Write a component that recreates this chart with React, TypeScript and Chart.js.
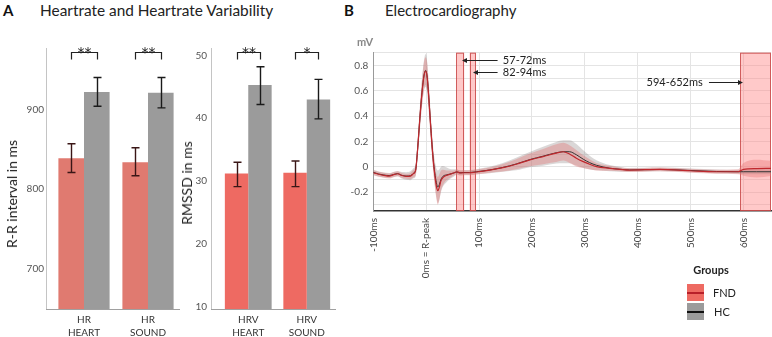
import React, { useEffect, useRef } from "react";
import { Chart, registerables } from "chart.js";
Chart.register(...registerables);
Chart.defaults.font.family = "Lato, 'Open Sans', sans-serif";

// ---------- Panel A data ----------
const hrCategories = [["HR", "HEART"], ["HR", "SOUND"]];
const hrFnd = [839, 834];
const hrFndLow = [821, 817];
const hrFndHigh = [857, 852];
const hrHc = [922, 921];
const hrHcLow = [904, 902];
const hrHcHigh = [940, 940];
const hrSig = ["**", "**"];
const hrTicks = [700, 800, 900];

const hrvCategories = [["HRV", "HEART"], ["HRV", "SOUND"]];
const hrvFnd = [31.2, 31.3];
const hrvFndLow = [29.1, 29.1];
const hrvFndHigh = [33.0, 33.2];
const hrvHc = [45.3, 43.0];
const hrvHcLow = [42.2, 39.9];
const hrvHcHigh = [48.2, 46.2];
const hrvSig = ["**", "*"];
const hrvTicks = [10, 20, 30, 40, 50];

// ---------- Panel B data ----------
const ecgTime = [-100, -90, -80, -70, -60, -54, -46, -38, -30, -24, -20, -16, -12, -8, -4, -1, 2, 5, 8, 11, 14, 17, 20, 22, 25, 28, 32, 38, 45, 52, 58, 64, 70, 82, 95, 120, 145, 170, 196, 221, 246, 259, 271, 284, 297, 309, 322, 347, 366, 385, 442, 499, 549, 590, 600, 625, 652];
const ecgFnd = [-0.048, -0.06, -0.068, -0.074, -0.061, -0.056, -0.07, -0.076, -0.074, -0.055, -0.03, 0.15, 0.38, 0.58, 0.72, 0.755, 0.7, 0.54, 0.35, 0.17, 0.02, -0.09, -0.17, -0.19, -0.16, -0.11, -0.085, -0.07, -0.06, -0.05, -0.04, -0.05, -0.048, -0.048, -0.042, -0.027, -0.008, 0.019, 0.054, 0.08, 0.107, 0.118, 0.1, 0.067, 0.04, 0.019, 0.0, -0.013, -0.021, -0.027, -0.021, -0.032, -0.04, -0.04, -0.021, -0.015, -0.013];
const ecgHc = [-0.045, -0.058, -0.066, -0.07, -0.06, -0.055, -0.068, -0.074, -0.072, -0.052, -0.028, 0.15, 0.38, 0.585, 0.725, 0.76, 0.705, 0.545, 0.355, 0.175, 0.03, -0.07, -0.14, -0.16, -0.14, -0.1, -0.075, -0.065, -0.058, -0.05, -0.042, -0.048, -0.046, -0.046, -0.04, -0.026, -0.006, 0.021, 0.056, 0.083, 0.11, 0.118, 0.118, 0.094, 0.059, 0.032, 0.011, -0.012, -0.02, -0.026, -0.022, -0.03, -0.038, -0.04, -0.04, -0.04, -0.04];
const ecgFndSd = [0.02, 0.02, 0.02, 0.02, 0.02, 0.02, 0.02, 0.02, 0.025, 0.03, 0.04, 0.06, 0.08, 0.1, 0.11, 0.11, 0.11, 0.1, 0.09, 0.08, 0.08, 0.09, 0.1, 0.11, 0.1, 0.08, 0.06, 0.04, 0.03, 0.02, 0.02, 0.02, 0.02, 0.02, 0.02, 0.02, 0.03, 0.04, 0.05, 0.06, 0.07, 0.07, 0.07, 0.065, 0.05, 0.04, 0.03, 0.02, 0.015, 0.015, 0.015, 0.015, 0.015, 0.02, 0.05, 0.07, 0.06];
const ecgHcSd = [0.02, 0.02, 0.02, 0.02, 0.02, 0.02, 0.025, 0.03, 0.035, 0.04, 0.05, 0.07, 0.09, 0.11, 0.12, 0.13, 0.12, 0.11, 0.1, 0.09, 0.09, 0.1, 0.12, 0.13, 0.12, 0.1, 0.08, 0.06, 0.04, 0.03, 0.02, 0.02, 0.02, 0.02, 0.02, 0.025, 0.035, 0.05, 0.06, 0.075, 0.085, 0.09, 0.09, 0.085, 0.07, 0.055, 0.04, 0.025, 0.02, 0.015, 0.015, 0.015, 0.015, 0.015, 0.02, 0.02, 0.02];
const ecgXTicks = [-100, 0, 100, 200, 300, 400, 500, 600];
const ecgXTickLabels = ["-100ms", "0ms = R-peak", "100ms", "200ms", "300ms", "400ms", "500ms", "600ms"];
const ecgYTicks = [-0.3, -0.2, -0.1, 0, 0.1, 0.2, 0.3, 0.4, 0.5, 0.6, 0.7, 0.8, 0.9];
const ecgYLabeled = [-0.2, 0, 0.2, 0.4, 0.6, 0.8];
const ecgWindowStart = [57, 82, 594];
const ecgWindowEnd = [72, 94, 652];
const ecgWindowLabels = ["57-72ms", "82-94ms", "594-652ms"];

// annotation layout (text anchor / arrow in axis units)
const annLayout = [
  { textT: 145, v: 0.842, align: "left", fromT: 135, toT: 67.7 },
  { textT: 145, v: 0.748, align: "left", fromT: 135, toT: 88.5 },
  { textT: 523, v: 0.669, align: "right", fromT: 534.7, toT: 599 },
];

function barDecor(gap: number, low: number[][], high: number[][], sig: string[], errColors: string[]) {
  return {
    id: "barDecor",
    afterDatasetsDraw(chart: any) {
      const ctx = chart.ctx;
      const { left, right, top, bottom } = chart.chartArea;
      const ys = chart.scales.y;
      ctx.save();
      ctx.lineWidth = 1;
      ctx.strokeStyle = "#c4c4c4";
      ctx.beginPath();
      ctx.moveTo(left - gap + 0.5, top);
      ctx.lineTo(left - gap + 0.5, bottom);
      ctx.stroke();
      ctx.strokeStyle = "#a0a0a0";
      ctx.beginPath();
      ctx.moveTo(left - gap, bottom + 0.5);
      ctx.lineTo(right, bottom + 0.5);
      ctx.stroke();
      chart.data.datasets.forEach((_ds: any, di: number) => {
        const meta = chart.getDatasetMeta(di);
        meta.data.forEach((bar: any, i: number) => {
          const x = Math.round(bar.x) + 0.5;
          const yl = ys.getPixelForValue(low[di][i]);
          const yh = ys.getPixelForValue(high[di][i]);
          ctx.strokeStyle = errColors[di];
          ctx.lineWidth = 1.4;
          ctx.beginPath();
          ctx.moveTo(x, yl);
          ctx.lineTo(x, yh);
          ctx.moveTo(x - 4, yl);
          ctx.lineTo(x + 4, yl);
          ctx.moveTo(x - 4, yh);
          ctx.lineTo(x + 4, yh);
          ctx.stroke();
        });
      });
      const m0 = chart.getDatasetMeta(0);
      const m1 = chart.getDatasetMeta(1);
      sig.forEach((s, i) => {
        const x0 = Math.round(m0.data[i].x) + 0.5;
        const x1 = Math.round(m1.data[i].x) + 0.5;
        const yt = top + 4.5;
        ctx.strokeStyle = "#222";
        ctx.lineWidth = 1.2;
        ctx.beginPath();
        ctx.moveTo(x0, yt + 7);
        ctx.lineTo(x0, yt);
        ctx.lineTo(x1, yt);
        ctx.lineTo(x1, yt + 7);
        ctx.stroke();
        ctx.fillStyle = "#222";
        ctx.font = "14px 'DejaVu Sans', sans-serif";
        ctx.textAlign = "center";
        ctx.textBaseline = "alphabetic";
        ctx.fillText(s, (x0 + x1) / 2, yt + 4.5);
      });
      ctx.restore();
    },
  };
}

function barConfig(cats: any, fnd: number[], hc: number[], fndColor: string, yMin: number, yMax: number, ticks: number[], yWidth: number, tickPad: number, padRight: number, decor: any) {
  return {
    type: "bar",
    data: {
      labels: cats,
      datasets: [
        { label: "FND", data: fnd, backgroundColor: fndColor, categoryPercentage: 0.8, barPercentage: 1 },
        { label: "HC", data: hc, backgroundColor: "#9b9b9b", categoryPercentage: 0.8, barPercentage: 1 },
      ],
    },
    options: {
      animation: false,
      responsive: false,
      layout: { padding: { top: 18, right: padRight, left: 0, bottom: 0 } },
      plugins: { legend: { display: false }, tooltip: { enabled: false } },
      scales: {
        x: {
          grid: { display: false, drawTicks: false },
          border: { display: false },
          ticks: { color: "#333", font: { size: 10, lineHeight: 1.3 }, padding: 4, maxRotation: 0, autoSkip: false },
          afterFit: (s: any) => { s.height = 28; },
        },
        y: {
          min: yMin,
          max: yMax,
          grid: { display: false, drawTicks: false },
          border: { display: false },
          ticks: { color: "#555", font: { size: 10 }, padding: tickPad, autoSkip: false },
          afterBuildTicks: (s: any) => { s.ticks = ticks.map((v) => ({ value: v })); },
          afterFit: (s: any) => { s.width = yWidth; },
        },
      },
    },
    plugins: [decor],
  };
}

const ecgDecor = {
  id: "ecgDecor",
  beforeDatasetsDraw(chart: any) {
    const ctx = chart.ctx;
    const { top, bottom } = chart.chartArea;
    const xs = chart.scales.x;
    ctx.save();
    ecgWindowStart.forEach((s, i) => {
      const x0 = xs.getPixelForValue(s);
      const x1 = xs.getPixelForValue(ecgWindowEnd[i]);
      ctx.fillStyle = "rgba(255,135,135,0.45)";
      ctx.fillRect(x0, top, x1 - x0, bottom - top);
      ctx.strokeStyle = "rgba(200,70,70,0.85)";
      ctx.lineWidth = 1;
      ctx.strokeRect(Math.round(x0) + 0.5, top + 0.5, Math.round(x1 - x0) - 1, bottom - top - 1);
    });
    ctx.restore();
  },
  afterDatasetsDraw(chart: any) {
    const ctx = chart.ctx;
    const xs = chart.scales.x;
    const ys = chart.scales.y;
    ctx.save();
    ctx.font = "11px Lato, sans-serif";
    ctx.fillStyle = "#222";
    ctx.strokeStyle = "#222";
    ctx.lineWidth = 1;
    annLayout.forEach((a, i) => {
      const y = Math.round(ys.getPixelForValue(a.v)) + 0.5;
      ctx.textAlign = a.align as any;
      ctx.textBaseline = "middle";
      ctx.fillText(ecgWindowLabels[i], xs.getPixelForValue(a.textT), y);
      const xf = xs.getPixelForValue(a.fromT);
      const xt = xs.getPixelForValue(a.toT);
      const dir = xt > xf ? 1 : -1;
      ctx.beginPath();
      ctx.moveTo(xf, y);
      ctx.lineTo(xt - dir * 4, y);
      ctx.stroke();
      ctx.beginPath();
      ctx.moveTo(xt, y);
      ctx.lineTo(xt - dir * 5, y - 2.5);
      ctx.lineTo(xt - dir * 5, y + 2.5);
      ctx.closePath();
      ctx.fill();
    });
    ctx.restore();
  },
};

function ecgConfig() {
  const pts = (vals: number[]) => ecgTime.map((t, i) => ({ x: t, y: vals[i] }));
  const fndUp = ecgFnd.map((v, i) => v + ecgFndSd[i]);
  const fndLo = ecgFnd.map((v, i) => v - ecgFndSd[i]);
  const hcUp = ecgHc.map((v, i) => v + ecgHcSd[i]);
  const hcLo = ecgHc.map((v, i) => v - ecgHcSd[i]);
  const common = { pointRadius: 0, cubicInterpolationMode: "monotone" };
  return {
    type: "line",
    data: {
      datasets: [
        { label: "FND", data: pts(ecgFnd), borderColor: "#c0282d", borderWidth: 1.2, fill: false, ...common },
        { label: "HC", data: pts(ecgHc), borderColor: "#333333", borderWidth: 1, fill: false, ...common },
        { label: "FND band", data: pts(fndUp), borderWidth: 0, borderColor: "rgba(0,0,0,0)", fill: "+1", backgroundColor: "rgba(228,110,110,0.35)", ...common },
        { label: "FND low", data: pts(fndLo), borderWidth: 0, borderColor: "rgba(0,0,0,0)", fill: false, ...common },
        { label: "HC band", data: pts(hcUp), borderWidth: 0, borderColor: "rgba(0,0,0,0)", fill: "+1", backgroundColor: "rgba(150,140,140,0.35)", ...common },
        { label: "HC low", data: pts(hcLo), borderWidth: 0, borderColor: "rgba(0,0,0,0)", fill: false, ...common },
      ],
    },
    options: {
      animation: false,
      responsive: false,
      layout: { padding: { top: 12.7, right: 1, left: 0, bottom: 0 } },
      plugins: { legend: { display: false }, tooltip: { enabled: false } },
      scales: {
        x: {
          type: "linear",
          min: -100,
          max: 652,
          grid: { color: "#e4e4e4", drawTicks: false },
          border: { color: "#333", width: 1.5 },
          ticks: {
            minRotation: 90,
            maxRotation: 90,
            autoSkip: false,
            padding: 7,
            color: "#444",
            font: { size: 10 },
            callback: (v: number) => {
              const i = ecgXTicks.indexOf(v);
              return i >= 0 ? ecgXTickLabels[i] : "";
            },
          },
          afterBuildTicks: (s: any) => { s.ticks = ecgXTicks.map((v) => ({ value: v })); },
          afterFit: (s: any) => { s.height = 89; },
        },
        y: {
          min: -0.35,
          max: 0.9,
          grid: { color: "#e4e4e4", drawTicks: false },
          border: { color: "#999", width: 1 },
          ticks: {
            padding: 5,
            color: "#555",
            autoSkip: false,
            font: { size: 10 },
            callback: (v: number) => {
              const hit = ecgYLabeled.find((l) => Math.abs(l - v) < 1e-6);
              if (hit === undefined) return "";
              return hit === 0 ? "0" : hit.toFixed(1);
            },
          },
          afterBuildTicks: (s: any) => { s.ticks = ecgYTicks.map((v) => ({ value: v })); },
          afterFit: (s: any) => { s.width = 33.3; },
        },
      },
    },
    plugins: [ecgDecor],
  };
}

function ChartCanvas({ make, left, top, width, height }: any) {
  const ref = useRef<HTMLCanvasElement>(null);
  useEffect(() => {
    const c = new Chart(ref.current as HTMLCanvasElement, make());
    return () => c.destroy();
  }, []);
  return <canvas ref={ref} width={width} height={height} style={{ position: "absolute", left, top, width, height }} />;
}

const txt = (extra: any) => ({ position: "absolute" as const, fontFamily: "Lato, sans-serif", whiteSpace: "nowrap" as const, color: "#222", ...extra });
const rot = (cx: number, cy: number, size: number) => txt({ left: cx, top: cy, fontSize: size, lineHeight: 1, transform: "translate(-50%,-50%) rotate(-90deg)" });

export default function App() {
  return (
    <div style={{ position: "fixed", left: 0, top: 0, width: 772, height: 337, background: "#fff", overflow: "hidden" }}>
      <div style={txt({ left: 3, top: 3, fontSize: 15, fontWeight: 700, lineHeight: "15px", color: "#111" })}>A</div>
      <div style={txt({ left: 40, top: 3, fontSize: 15.4, lineHeight: "15px" })}>Heartrate and Heartrate Variability</div>
      <div style={txt({ left: 344, top: 3, fontSize: 15, fontWeight: 700, lineHeight: "15px", color: "#111" })}>B</div>
      <div style={txt({ left: 385, top: 3, fontSize: 15, lineHeight: "15px" })}>Electrocardiography</div>

      <ChartCanvas
        left={0}
        top={30}
        width={182}
        height={307}
        make={() => barConfig(hrCategories, hrFnd, hrHc, "#e07a70", 650, 977, hrTicks, 52, 8, 2,
          barDecor(6, [[...hrFndLow], [...hrHcLow]], [[...hrFndHigh], [...hrHcHigh]], hrSig, ["#3a1616", "#1a1a1a"]))}
      />
      <ChartCanvas
        left={180}
        top={30}
        width={160}
        height={307}
        make={() => barConfig(hrvCategories, hrvFnd, hrvHc, "#ee6a62", 9.6, 51.2, hrvTicks, 39, 12, 4,
          barDecor(8, [[...hrvFndLow], [...hrvHcLow]], [[...hrvFndHigh], [...hrvHcHigh]], hrvSig, ["#3a1616", "#1a1a1a"]))}
      />
      <div style={rot(12, 194, 14)}>R-R interval in ms</div>
      <div style={rot(187, 183, 14)}>RMSSD in ms</div>

      <ChartCanvas left={340} top={40} width={432} height={260} make={ecgConfig} />
      <div style={txt({ left: 357, top: 36, fontSize: 11, fontWeight: 700, lineHeight: "12px", color: "#888" })}>mV</div>

      <div style={txt({ left: 711, top: 264, fontSize: 11, fontWeight: 700, lineHeight: "12px", transform: "translateX(-50%)" })}>Groups</div>
      <div style={{ position: "absolute", left: 687, top: 284, width: 17, height: 17, background: "#ee6a62" }}>
        <div style={{ position: "absolute", left: 0, top: 7.5, width: 17, height: 2, background: "#b8202a" }} />
      </div>
      <div style={{ position: "absolute", left: 687, top: 303, width: 17, height: 17, background: "#9b9b9b" }}>
        <div style={{ position: "absolute", left: 0, top: 7.5, width: 17, height: 2, background: "#111" }} />
      </div>
      <div style={txt({ left: 713, top: 287, fontSize: 11, lineHeight: "12px" })}>FND</div>
      <div style={txt({ left: 714, top: 306, fontSize: 11, lineHeight: "12px" })}>HC</div>
    </div>
  );
}
